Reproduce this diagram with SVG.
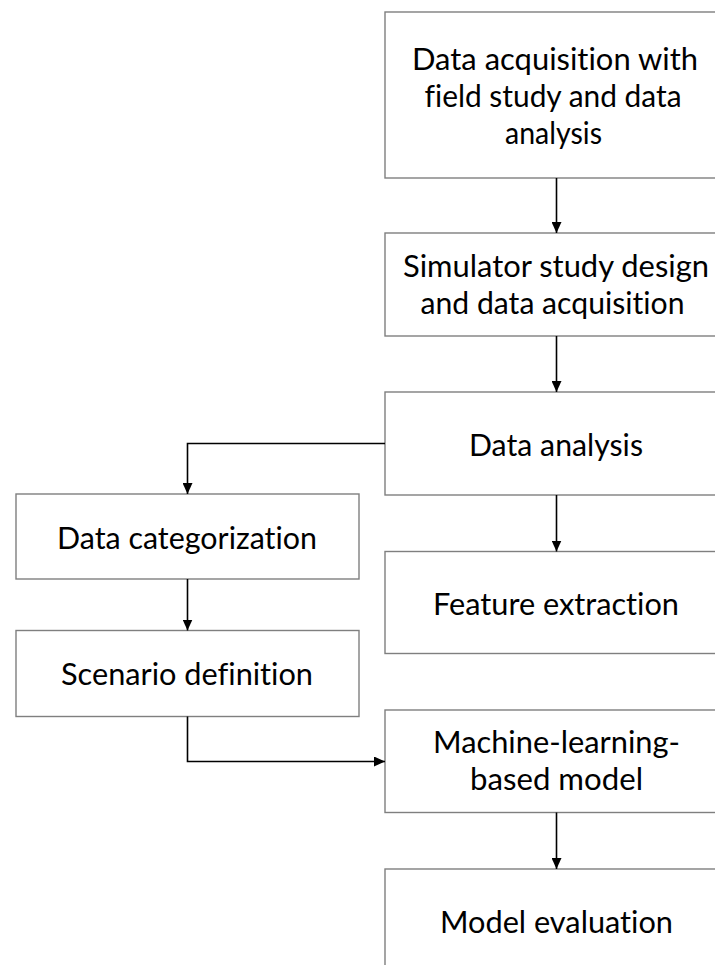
<svg xmlns="http://www.w3.org/2000/svg" width="715" height="965" viewBox="0 0 715 965">
  <style>
    .box { fill: #ffffff; stroke: #7f7f7f; stroke-width: 1.4; }
    .label { font-family: Lato, "Open Sans", "Liberation Sans", sans-serif; font-size: 31px; fill: #000000; text-anchor: middle; font-variant-ligatures: none; }
    .link { fill: none; stroke: #000000; stroke-width: 1.6; marker-end: url(#head); }
  </style>
  <defs>
    <marker id="head" markerUnits="userSpaceOnUse" markerWidth="12" markerHeight="10" refX="11" refY="5" orient="auto">
      <path d="M0,0 L11,5 L0,10 Z" fill="#000000"/>
    </marker>
  </defs>

  <rect width="715" height="965" fill="#ffffff"/>

  <g id="acquisition">
    <rect class="box" x="385" y="12" width="345" height="166"/>
    <text class="label" x="555" y="70" textLength="286" lengthAdjust="spacingAndGlyphs">Data acquisition with</text>
    <text class="label" x="553" y="107" textLength="257" lengthAdjust="spacingAndGlyphs">field study and data</text>
    <text class="label" x="553.5" y="144" textLength="97" lengthAdjust="spacingAndGlyphs">analysis</text>
  </g>

  <g id="simulator">
    <rect class="box" x="385" y="233" width="345" height="103"/>
    <text class="label" x="556" y="277" textLength="306" lengthAdjust="spacingAndGlyphs">Simulator study design</text>
    <text class="label" x="552.5" y="314" textLength="264" lengthAdjust="spacingAndGlyphs">and data acquisition</text>
  </g>

  <g id="analysis">
    <rect class="box" x="385" y="392" width="345" height="103"/>
    <text class="label" x="556" y="456" textLength="174" lengthAdjust="spacingAndGlyphs">Data analysis</text>
  </g>

  <g id="categorization">
    <rect class="box" x="16" y="494" width="343" height="85"/>
    <text class="label" x="187" y="549" textLength="260" lengthAdjust="spacingAndGlyphs">Data categorization</text>
  </g>

  <g id="scenario">
    <rect class="box" x="16" y="630.5" width="343" height="86"/>
    <text class="label" x="187" y="685" textLength="252" lengthAdjust="spacingAndGlyphs">Scenario definition</text>
  </g>

  <g id="features">
    <rect class="box" x="385" y="551.5" width="345" height="102"/>
    <text class="label" x="556" y="615" textLength="246" lengthAdjust="spacingAndGlyphs">Feature extraction</text>
  </g>

  <g id="model">
    <rect class="box" x="385" y="710" width="345" height="102.5"/>
    <text class="label" x="556.5" y="753" textLength="247" lengthAdjust="spacingAndGlyphs">Machine-learning-</text>
    <text class="label" x="556.5" y="790" textLength="173" lengthAdjust="spacingAndGlyphs">based model</text>
  </g>

  <g id="evaluation">
    <rect class="box" x="385" y="869" width="345" height="103"/>
    <text class="label" x="556.5" y="933" textLength="233" lengthAdjust="spacingAndGlyphs">Model evaluation</text>
  </g>

  <g id="connectors">
    <path class="link" d="M556.5,178 V233"/>
    <path class="link" d="M556.5,336 V392"/>
    <path class="link" d="M556.5,495 V551.5"/>
    <path class="link" d="M556.5,812.5 V869"/>
    <path class="link" d="M385,443.5 H187.5 V494"/>
    <path class="link" d="M187.5,579 V630.5"/>
    <path class="link" d="M187.5,716.5 V761.5 H385"/>
  </g>
</svg>
